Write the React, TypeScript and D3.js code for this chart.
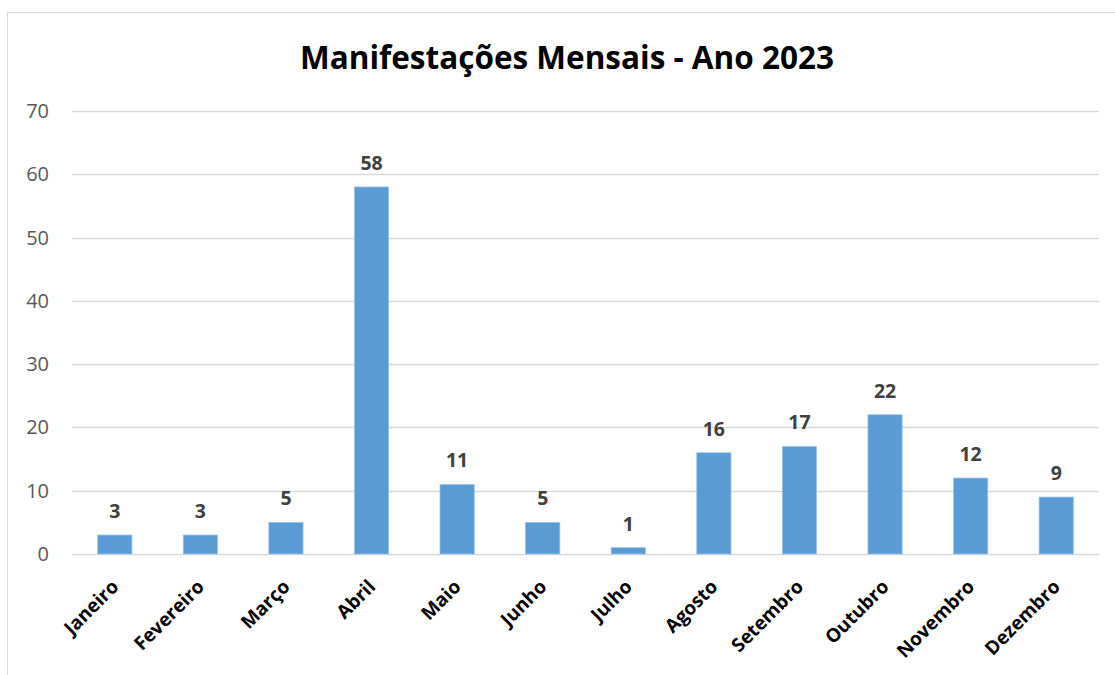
import React, { useEffect, useRef } from 'react';
import * as d3 from 'd3';

// Manifestações mensais 2023
const months = ['Janeiro', 'Fevereiro', 'Março', 'Abril', 'Maio', 'Junho', 'Julho', 'Agosto', 'Setembro', 'Outubro', 'Novembro', 'Dezembro'];
const counts = [3, 3, 5, 58, 11, 5, 1, 16, 17, 22, 12, 9];
const yTicks = [0, 10, 20, 30, 40, 50, 60, 70];

const W = 1115;
const H = 675;

export default function App() {
  const svgRef = useRef<SVGSVGElement | null>(null);

  useEffect(() => {
    if (!svgRef.current) return;
    const svg = d3.select(svgRef.current);
    svg.selectAll('*').remove();

    const margin = { top: 111, right: 16, bottom: 121, left: 72 };
    const width = W - margin.left - margin.right;
    const height = H - margin.top - margin.bottom;
    const font = '"Open Sans", "Liberation Sans", sans-serif';

    // chart frame
    svg.append('rect')
      .attr('x', 7.5).attr('y', 12.5)
      .attr('width', W).attr('height', H)
      .attr('fill', '#fff')
      .attr('stroke', '#d9d9d9');

    svg.append('text')
      .attr('x', 567).attr('y', 69)
      .attr('text-anchor', 'middle')
      .attr('font-family', font)
      .attr('font-weight', 700)
      .attr('font-size', 31.5)
      .attr('fill', '#000')
      .text('Manifestações Mensais - Ano 2023');

    const g = svg.append('g').attr('transform', `translate(${margin.left},${margin.top})`);

    const x = d3.scaleBand().domain(months).range([0, width]).paddingInner(0.6).paddingOuter(0.3);
    const y = d3.scaleLinear().domain([0, 70]).range([height, 0]);

    // grid
    g.selectAll('.grid')
      .data(yTicks)
      .enter()
      .append('line')
      .attr('x1', 0).attr('x2', width)
      .attr('y1', d => Math.round(y(d)) + 0.5)
      .attr('y2', d => Math.round(y(d)) + 0.5)
      .attr('stroke', '#d9d9d9')
      .attr('stroke-width', 1.5);

    // y labels
    g.selectAll('.ylab')
      .data(yTicks)
      .enter()
      .append('text')
      .attr('x', -23)
      .attr('y', d => y(d))
      .attr('dy', '0.35em')
      .attr('text-anchor', 'end')
      .attr('font-family', font)
      .attr('font-size', 20)
      .attr('fill', '#595959')
      .text(d => d);

    // bars
    g.selectAll('.bar')
      .data(counts)
      .enter()
      .append('rect')
      .attr('x', (d, i) => x(months[i])!)
      .attr('width', x.bandwidth())
      .attr('y', d => y(d))
      .attr('height', d => height - y(d))
      .attr('fill', '#5b9bd5')
      .attr('stroke', '#9dc3e6')
      .attr('stroke-width', 0.75);

    // value labels
    g.selectAll('.val')
      .data(counts)
      .enter()
      .append('text')
      .attr('x', (d, i) => x(months[i])! + x.bandwidth() / 2)
      .attr('y', d => y(d) - 17)
      .attr('text-anchor', 'middle')
      .attr('font-family', font)
      .attr('font-weight', 700)
      .attr('font-size', 19.5)
      .attr('fill', '#404040')
      .text(d => d);

    // x labels, rotated
    g.selectAll('.xlab')
      .data(months)
      .enter()
      .append('text')
      .attr('transform', d => `translate(${x(d)! + x.bandwidth() / 2 + 5},${height + 34}) rotate(-45)`)
      .attr('text-anchor', 'end')
      .attr('font-family', font)
      .attr('font-weight', 700)
      .attr('font-size', 19)
      .attr('fill', '#000')
      .text(d => d);
  }, []);

  return (
    <div style={{ position: 'absolute', left: 0, top: 0 }}>
      <svg ref={svgRef} width={W} height={H} style={{ display: 'block' }} />
    </div>
  );
}
